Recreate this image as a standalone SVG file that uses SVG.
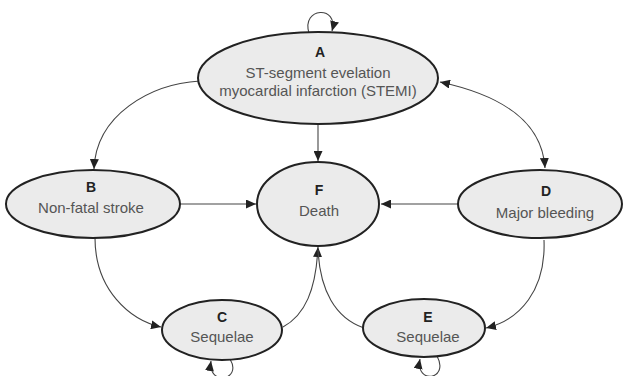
<svg xmlns="http://www.w3.org/2000/svg" width="626" height="376" viewBox="0 0 626 376">
<style>
.node ellipse{fill:#ebebeb;stroke:#222;stroke-width:2}
.lt{font-family:"Liberation Sans",Arial,sans-serif;font-size:14px;font-weight:bold;fill:#222;text-anchor:middle}
.lb{font-family:"Liberation Sans",Arial,sans-serif;font-size:15px;fill:#555;text-anchor:middle}
.edge{fill:none;stroke:#444;stroke-width:1.1}
</style>
<defs>
<marker id="ah" markerUnits="userSpaceOnUse" markerWidth="10" markerHeight="9" refX="10" refY="4.5" orient="auto-start-reverse">
<path d="M0,0 L10,4.5 L0,9 z" fill="#222"/>
</marker>
</defs>
<rect width="626" height="376" fill="#fff"/>
<g id="connectors">
<path class="edge" d="M200,81 C150,84 96,115 94,169" marker-end="url(#ah)"/>
<path class="edge" d="M440,82 C500,95 542,120 545,168" marker-start="url(#ah)" marker-end="url(#ah)"/>
<path class="edge" d="M318,124 L318,161" marker-end="url(#ah)"/>
<path class="edge" d="M180,204 L256,204" marker-end="url(#ah)"/>
<path class="edge" d="M458,204 L381,204" marker-end="url(#ah)"/>
<path class="edge" d="M95,238 C95,290 130,320 161,327" marker-end="url(#ah)"/>
<path class="edge" d="M544,240 C546,290 520,320 486,328" marker-end="url(#ah)"/>
<path class="edge" d="M283,327 C305,315 316,290 318,247" marker-end="url(#ah)"/>
<path class="edge" d="M364,328 C335,318 320,290 318,250"/>
<path class="edge" d="M309,33 C301,7 339,5 332,31" marker-end="url(#ah)"/>
<path class="edge" d="M230,359 C243,381 207,386 211,361" marker-end="url(#ah)"/>
<path class="edge" d="M437,356 C450,380 415,385 420,359" marker-end="url(#ah)"/>
</g>
<g id="A" class="node">
<ellipse cx="318" cy="78" rx="120" ry="46"/>
<text class="lt" x="320" y="57">A</text>
<text class="lb" x="318" y="78">ST-segment evelation</text>
<text class="lb" x="318" y="96">myocardial infarction (STEMI)</text>
</g>
<g id="B" class="node">
<ellipse cx="93" cy="204" rx="87" ry="34"/>
<text class="lt" x="91" y="192">B</text>
<text class="lb" x="91" y="213">Non-fatal stroke</text>
</g>
<g id="D" class="node">
<ellipse cx="540" cy="204" rx="82" ry="34"/>
<text class="lt" x="546" y="196">D</text>
<text class="lb" x="545" y="218">Major bleeding</text>
</g>
<g id="F" class="node">
<ellipse cx="318" cy="204" rx="61" ry="42"/>
<text class="lt" x="319" y="195">F</text>
<text class="lb" x="319" y="216">Death</text>
</g>
<g id="C" class="node">
<ellipse cx="222" cy="330" rx="60" ry="30"/>
<text class="lt" x="222" y="322">C</text>
<text class="lb" x="222" y="342">Sequelae</text>
</g>
<g id="E" class="node">
<ellipse cx="424" cy="328" rx="61" ry="29"/>
<text class="lt" x="428" y="322">E</text>
<text class="lb" x="428" y="342">Sequelae</text>
</g>
</svg>
